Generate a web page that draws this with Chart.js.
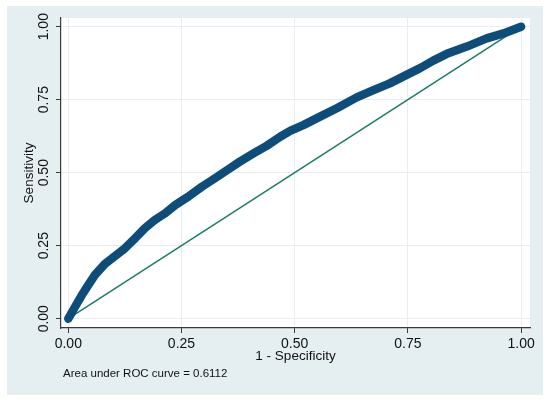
<!DOCTYPE html>
<html>
<head>
<meta charset="utf-8">
<script src="https://cdn.jsdelivr.net/npm/chart.js@4.4.1/dist/chart.umd.min.js"></script>
<style>
  html, body { margin: 0; padding: 0; background: #fff; }
  #wrap { width: 550px; height: 402px; }
</style>
</head>
<body>
<div id="wrap"><canvas id="rocChart" width="550" height="402"></canvas></div>
<script>
// ROC curve points
const fpr = [0, 0.015, 0.030, 0.044, 0.059, 0.081, 0.103, 0.125, 0.147, 0.169,
  0.191, 0.214, 0.236, 0.265, 0.295, 0.324, 0.357, 0.379, 0.409, 0.438,
  0.468, 0.490, 0.519, 0.556, 0.593, 0.637, 0.674, 0.710, 0.747, 0.777,
  0.806, 0.836, 0.880, 0.924, 0.961, 1];
const sensitivity = [0, 0.041, 0.081, 0.115, 0.150, 0.188, 0.214, 0.241, 0.275, 0.310,
  0.338, 0.361, 0.389, 0.418, 0.452, 0.481, 0.515, 0.538, 0.566, 0.592,
  0.623, 0.643, 0.663, 0.692, 0.721, 0.758, 0.783, 0.806, 0.835, 0.858,
  0.884, 0.907, 0.932, 0.960, 0.977, 1];
const refX = [0, 1];
const refY = [0, 1];
const tickValues = [0, 0.25, 0.5, 0.75, 1];
const tickLabels = ["0.00", "0.25", "0.50", "0.75", "1.00"];
const xTitle = "1 - Specificity";
const yTitle = "Sensitivity";
const aucNote = "Area under ROC curve = 0.6112";

const FONT = "'Liberation Sans', Arial, sans-serif";
const TEXT = "#111";
const GRID = "#e6eef0";
const AXIS = "#3a3a3a";

// stata-ish grey-blue region + white plot area
const background = {
  id: "background",
  beforeDraw(chart) {
    const ctx = chart.ctx;
    const a = chart.chartArea;
    ctx.save();
    ctx.fillStyle = "#e5eff1";
    ctx.fillRect(7, 6, 536, 389);
    ctx.fillStyle = "#ffffff";
    ctx.fillRect(a.left, a.top, a.right - a.left, a.bottom - a.top);
    ctx.restore();
  }
};

// rotated y tick labels and the AUC note
const extraText = {
  id: "extraText",
  afterDraw(chart) {
    const ctx = chart.ctx;
    const y = chart.scales.y;
    ctx.save();
    ctx.fillStyle = TEXT;
    ctx.font = "14px " + FONT;
    ctx.textAlign = "center";
    ctx.textBaseline = "middle";
    tickValues.forEach((v, i) => {
      const py = y.getPixelForValue(v);
      ctx.save();
      ctx.translate(44.5, py);
      ctx.rotate(-Math.PI / 2);
      ctx.fillText(tickLabels[i], 0, 0);
      ctx.restore();
    });
    ctx.font = "11.5px " + FONT;
    ctx.textAlign = "left";
    ctx.fillText(aucNote, 63, 374);
    ctx.restore();
  }
};

const ctx = document.getElementById("rocChart").getContext("2d");
const rocChart = new Chart(ctx, {
  type: "scatter",
  data: {
    datasets: [
      {
        label: "ROC",
        data: fpr.map((x, i) => ({ x: x, y: sensitivity[i] })),
        showLine: true,
        borderColor: "#0e4c7a",
        borderWidth: 8.5,
        borderCapStyle: "round",
        borderJoinStyle: "round",
        pointRadius: 0,
        tension: 0,
      },
      {
        label: "Reference",
        data: refX.map((x, i) => ({ x: x, y: refY[i] })),
        showLine: true,
        borderColor: "#1f7a63",
        borderWidth: 1.5,
        pointRadius: 0,
      },
    ],
  },
  options: {
    responsive: false,
    animation: false,
    layout: { padding: { left: 7, right: 20, top: 18, bottom: 34 } },
    plugins: { legend: { display: false }, tooltip: { enabled: false } },
    scales: {
      x: {
        type: "linear",
        min: -0.0161,
        max: 1.0197,
        afterBuildTicks: (s) => { s.ticks = tickValues.map((v) => ({ value: v })); },
        afterFit: (s) => { s.height = 40; },
        ticks: {
          callback: (v) => tickLabels[tickValues.indexOf(v)],
          font: { family: FONT, size: 14 },
          color: TEXT,
          padding: 3,
          maxRotation: 0,
        },
        grid: { color: GRID, lineWidth: 1, tickColor: AXIS, tickLength: 5 },
        border: { color: AXIS, width: 1.2 },
        title: {
          display: true,
          text: xTitle,
          font: { family: FONT, size: 13.5 },
          color: TEXT,
          padding: { top: 0, bottom: 4 },
        },
      },
      y: {
        type: "linear",
        min: -0.0318,
        max: 1.0298,
        afterBuildTicks: (s) => { s.ticks = tickValues.map((v) => ({ value: v })); },
        afterFit: (s) => { s.width = 54; },
        ticks: { display: false },
        grid: { color: GRID, lineWidth: 1, tickColor: AXIS, tickLength: 5 },
        border: { color: AXIS, width: 1.2 },
        title: {
          display: true,
          text: yTitle,
          font: { family: FONT, size: 13.5 },
          color: TEXT,
          padding: { top: 14, bottom: 0 },
        },
      },
    },
  },
  plugins: [background, extraText],
});
</script>
</body>
</html>
